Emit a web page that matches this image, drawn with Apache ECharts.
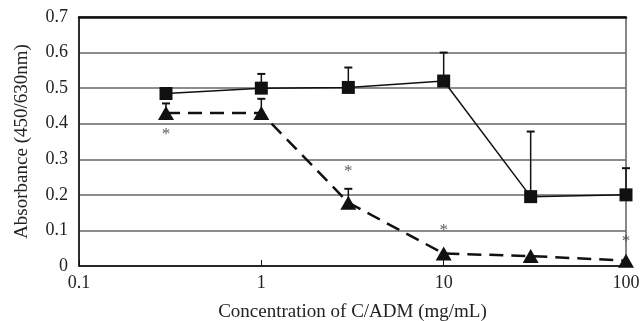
<!DOCTYPE html>
<html>
<head>
<meta charset="utf-8">
<script src="https://cdn.jsdelivr.net/npm/echarts@6/dist/echarts.min.js"></script>
<style>
  html, body { margin: 0; padding: 0; background: #fff; }
  #chart { width: 640px; height: 321px; }
</style>
</head>
<body>
<div id="chart"></div>
<script>
// concentrations (mg/mL)
var conc = [0.3, 1, 3, 10, 30, 100];
// square series (solid)
var squareVals = [0.485, 0.5, 0.502, 0.52, 0.195, 0.2];
var squareErrTop = [0.5, 0.54, 0.558, 0.6, 0.378, 0.275];
// triangle series (dashed)
var triVals = [0.43, 0.43, 0.178, 0.035, 0.028, 0.015];
var triErrTop = [0.457, 0.47, 0.217, 0.035, 0.028, 0.015];
// asterisk marks
var starX = [0.3, 3, 10, 100];
var starY = [0.37, 0.265, 0.1, 0.07];
var yTicks = [0, 0.1, 0.2, 0.3, 0.4, 0.5, 0.6, 0.7];

var font = '"Liberation Serif", "DejaVu Serif", serif';

function pairs(xs, ys) {
  var out = [];
  for (var i = 0; i < xs.length; i++) out.push([xs[i], ys[i]]);
  return out;
}

function errData(vals, tops) {
  var out = [];
  for (var i = 0; i < conc.length; i++) out.push([conc[i], vals[i], tops[i]]);
  return out;
}

function errRender(params, api) {
  var x = api.value(0);
  var lo = api.coord([x, api.value(1)]);
  var hi = api.coord([x, api.value(2)]);
  if (Math.abs(lo[1] - hi[1]) < 1) return;
  return {
    type: 'group',
    children: [
      { type: 'line', shape: { x1: lo[0], y1: lo[1], x2: hi[0], y2: hi[1] },
        style: { stroke: '#111', lineWidth: 1.5 } },
      { type: 'line', shape: { x1: hi[0] - 4, y1: hi[1], x2: hi[0] + 4, y2: hi[1] },
        style: { stroke: '#111', lineWidth: 2 } }
    ]
  };
}

var chart = echarts.init(document.getElementById('chart'));
chart.setOption({
  animation: false,
  grid: { left: 79, right: 14, top: 17, bottom: 55, outerBoundsMode: 'none',
    show: true, borderColor: '#111', borderWidth: 1 },
  xAxis: [
    {
      type: 'log', logBase: 10, min: 0.1, max: 100,
      name: 'Concentration of C/ADM (mg/mL)',
      nameLocation: 'middle', nameGap: 37,
      nameTextStyle: { fontFamily: font, fontSize: 19, color: '#222' },
      axisLine: { lineStyle: { color: '#111', width: 1.5 } },
      axisTick: { show: true, inside: true, length: 6, lineStyle: { color: '#111' } },
      axisLabel: { fontFamily: font, fontSize: 18, color: '#222', margin: 8 },
      splitLine: { show: false },
      minorTick: { show: false }
    },
    {
      type: 'log', logBase: 10, min: 0.1, max: 100, position: 'top',
      axisLine: { lineStyle: { color: '#111', width: 2.5 } },
      axisTick: { show: false }, axisLabel: { show: false }, splitLine: { show: false }
    }
  ],
  yAxis: {
    type: 'value', min: 0, max: 0.7, interval: 0.1,
    name: 'Absorbance (450/630nm)',
    nameLocation: 'middle', nameGap: 47,
    nameTextStyle: { fontFamily: font, fontSize: 19, color: '#222' },
    axisLine: { show: true, lineStyle: { color: '#111', width: 1.5 } },
    axisTick: { show: false },
    axisLabel: { fontFamily: font, fontSize: 18, color: '#222', margin: 11,
      formatter: function (v) { return yTicks.indexOf(Math.round(v * 10) / 10) >= 0 ? String(Math.round(v * 10) / 10) : ''; } },
    splitLine: { show: true, lineStyle: { color: '#666', width: 1.5 } }
  },
  series: [
    {
      type: 'custom', renderItem: errRender, data: errData(squareVals, squareErrTop), z: 1
    },
    {
      type: 'custom', renderItem: errRender, data: errData(triVals, triErrTop), z: 1
    },
    {
      type: 'line', data: pairs(conc, squareVals),
      symbol: 'rect', symbolSize: 13,
      lineStyle: { color: '#111', width: 1.5 },
      itemStyle: { color: '#111' }, z: 3
    },
    {
      type: 'line', data: pairs(conc, triVals),
      symbol: 'triangle', symbolSize: [16, 14],
      lineStyle: { color: '#111', width: 2.5, type: [14, 8] },
      itemStyle: { color: '#111' }, z: 4
    },
    {
      type: 'scatter', data: pairs(starX, starY), symbolSize: 0,
      label: { show: true, position: 'inside', formatter: '*', fontFamily: font, fontSize: 17, color: '#333' }
    }
  ]
});
</script>
</body>
</html>
